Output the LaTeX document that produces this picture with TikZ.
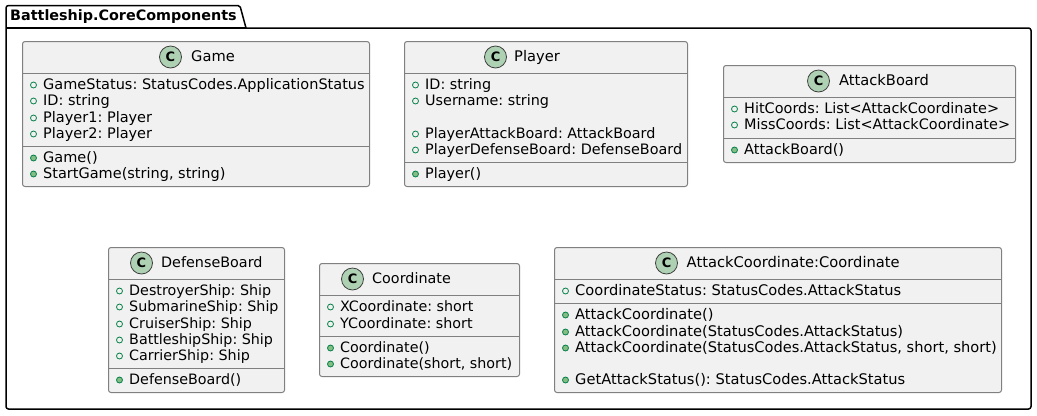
\documentclass[tikz,border=0pt]{standalone}
\usepackage{fontspec}
\setmainfont{DejaVu Sans}
\definecolor{boxfill}{HTML}{F1F1F1}
\definecolor{boxline}{HTML}{808080}
\definecolor{spotline}{HTML}{404040}
\definecolor{spot}{HTML}{ADD1B2}
\definecolor{icon}{HTML}{038048}
\definecolor{iconfill}{HTML}{84BE84}
\newcommand{\rowfs}{14.55}
\newcommand{\titlefs}{14.7}
\tikzset{
  x=1bp,y=-1bp,
  classbox/.style={draw=boxline,line width=1bp,fill=boxfill,rounded corners=2.5bp},
  sepline/.style={draw=boxline,line width=1bp},
  spotc/.style={circle,draw=spotline,line width=0.8bp,fill=spot,minimum size=22bp,inner sep=0pt,font=\fontsize{13}{13}\selectfont\bfseries},
  titletext/.style={anchor=west,inner sep=0pt,font=\fontsize{\titlefs}{16}\selectfont},
  rowtext/.style={anchor=west,inner sep=0pt,font=\fontsize{\rowfs}{16}\selectfont},
  fieldicon/.style={circle,draw=icon,line width=0.8bp,minimum size=6bp,inner sep=0pt},
  methodicon/.style={circle,draw=icon,line width=0.8bp,fill=iconfill,minimum size=6bp,inner sep=0pt},
  pkgline/.style={draw=black,line width=1.5bp},
}
% \umlbox{name}{x1}{y1}{x2}{y2}{title}{spot x}{title x}
\newcommand{\umlbox}[8]{%
  \draw[classbox] (#2,#3) rectangle (#4,#5);
  \node[spotc] (#1spot) at (#7,#3+15.5) {C};
  \node[titletext] (#1title) at (#8,#3+17) {\strut #6};
}
\newcommand{\umlsep}[3]{\draw[sepline] (#1,#3) -- (#2,#3);}
\newcommand{\umlfield}[4]{%
  \node[fieldicon] (#1i) at (#2,#3) {};
  \node[rowtext] (#1t) at (#2+9.5,#3+1.5) {\strut #4};
}
\newcommand{\umlmethod}[4]{%
  \node[methodicon] (#1i) at (#2,#3) {};
  \node[rowtext] (#1t) at (#2+9.5,#3+1.5) {\strut #4};
}
\begin{document}
\frenchspacing
\begin{tikzpicture}
\useasboundingbox[fill=white] (0,0) rectangle (1037,415);
% package
\draw[pkgline,line join=round] (6,28) -- (6,8) arc[start angle=180,end angle=270,radius=2.5] -- (238,5.5) arc[start angle=-90,end angle=-20,radius=2.5] -- (246,28) -- (1028.5,28) arc[start angle=-90,end angle=0,radius=2.5] -- (1031,406.5) arc[start angle=0,end angle=90,radius=2.5] -- (8.5,409) arc[start angle=90,end angle=180,radius=2.5] -- cycle;
\draw[pkgline] (6,28) -- (246,28);
\node[anchor=west,inner sep=0pt,font=\fontsize{14.4}{16}\selectfont\bfseries] (pkgname) at (10,17.5) {\strut Battleship.CoreComponents};
% Game
\umlbox{game}{22.5}{41.5}{369.5}{186.5}{Game}{170.5}{191}
\umlsep{22.5}{369.5}{73.5}
\umlfield{ga}{33.5}{85}{GameStatus: StatusCodes.ApplicationStatus}
\umlfield{gb}{33.5}{101}{ID: string}
\umlfield{gc}{33.5}{118}{Player1: Player}
\umlfield{gd}{33.5}{134}{Player2: Player}
\umlsep{22.5}{369.5}{146.5}
\umlmethod{ge}{33.5}{158}{Game()}
\umlmethod{gf}{33.5}{174}{StartGame(string, string)}
% Player
\renewcommand{\rowfs}{14.42}
\umlbox{player}{404.5}{41.5}{687.5}{186.5}{Player}{495.5}{514}
\umlsep{404.5}{687.5}{73.5}
\umlfield{pa}{415.5}{85}{ID: string}
\umlfield{pb}{415.5}{101}{Username: string}
\umlfield{pc}{415.5}{134}{PlayerAttackBoard: AttackBoard}
\umlfield{pd}{415.5}{150}{PlayerDefenseBoard: DefenseBoard}
\umlsep{404.5}{687.5}{162.5}
\umlmethod{pe}{415.5}{174}{Player()}
% AttackBoard
\renewcommand{\rowfs}{14.5}
\umlbox{aboard}{723.5}{65.5}{1015.5}{162.5}{AttackBoard}{818.5}{839}
\umlsep{723.5}{1015.5}{97.5}
\umlfield{aa}{734.5}{109}{HitCoords: List<AttackCoordinate>}
\umlfield{ab}{734.5}{125}{MissCoords: List<AttackCoordinate>}
\umlsep{723.5}{1015.5}{138.5}
\umlmethod{ac}{734.5}{150}{AttackBoard()}
% DefenseBoard
\renewcommand{\rowfs}{14.35}
\renewcommand{\titlefs}{14.4}
\umlbox{dboard}{108.5}{247.5}{284.5}{392.5}{DefenseBoard}{141.5}{161}
\umlsep{108.5}{284.5}{279.5}
\umlfield{da}{119.5}{291}{DestroyerShip: Ship}
\umlfield{db}{119.5}{307}{SubmarineShip: Ship}
\umlfield{dc}{119.5}{324}{CruiserShip: Ship}
\umlfield{dd}{119.5}{340}{BattleshipShip: Ship}
\umlfield{de}{119.5}{356}{CarrierShip: Ship}
\umlsep{108.5}{284.5}{368.5}
\umlmethod{df}{119.5}{380}{DefenseBoard()}
% Coordinate
\umlbox{coord}{319.5}{263.5}{519.5}{376.5}{Coordinate}{352.5}{372}
\umlsep{319.5}{519.5}{295.5}
\umlfield{ca}{330.5}{307}{XCoordinate: short}
\umlfield{cb}{330.5}{324}{YCoordinate: short}
\umlsep{319.5}{519.5}{336.5}
\umlmethod{cc}{330.5}{348}{Coordinate()}
\umlmethod{cd}{330.5}{364}{Coordinate(short, short)}
% AttackCoordinate
\renewcommand{\rowfs}{14.68}
\renewcommand{\titlefs}{14.75}
\umlbox{acoord}{554.5}{247.5}{1001.5}{392.5}{AttackCoordinate:Coordinate}{666.5}{686.5}
\umlsep{554.5}{1001.5}{279.5}
\umlfield{ka}{565.5}{291}{CoordinateStatus: StatusCodes.AttackStatus}
\umlsep{554.5}{1001.5}{303.5}
\umlmethod{kb}{565.5}{315}{AttackCoordinate()}
\umlmethod{kc}{565.5}{332}{AttackCoordinate(StatusCodes.AttackStatus)}
\umlmethod{kd}{565.5}{348}{AttackCoordinate(StatusCodes.AttackStatus, short, short)}
\umlmethod{ke}{565.5}{380}{GetAttackStatus(): StatusCodes.AttackStatus}
\end{tikzpicture}
\end{document}
